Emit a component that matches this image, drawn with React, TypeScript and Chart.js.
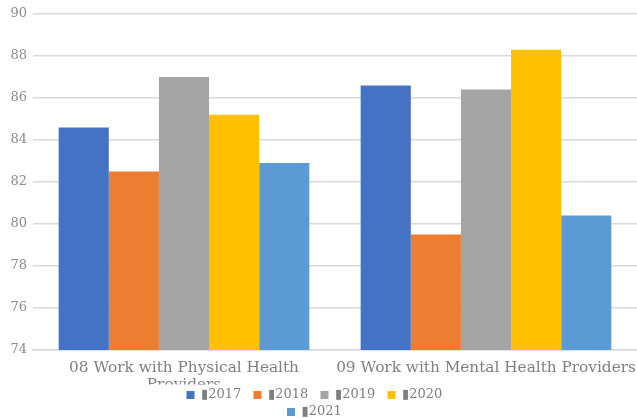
import React, { useEffect, useRef } from "react";
import { Chart, registerables } from "chart.js";

Chart.register(...registerables);

const categories: (string | string[])[] = [
  ["08 Work with Physical Health", "Providers"],
  "09 Work with Mental Health Providers",
];
const seriesNames = ["▮2017  ", "▮2018  ", "▮2019  ", "▮2020  ", "▮2021  "];
const values2017 = [84.6, 86.6];
const values2018 = [82.5, 79.5];
const values2019 = [87.0, 86.4];
const values2020 = [85.2, 88.3];
const values2021 = [82.9, 80.4];
const yTickMin = 74;
const yTickMax = 90;
const yTickStep = 2;

const colors = ["#4472C4", "#ED7D31", "#A5A5A5", "#FFC000", "#5B9BD5"];

const FONT = "'DejaVu Serif', serif";
const LEGEND_HALF_WIDTH = 150;

export default function App() {
  const ref = useRef<HTMLCanvasElement | null>(null);

  useEffect(() => {
    if (!ref.current) return;
    const seriesValues = [values2017, values2018, values2019, values2020, values2021];
    const chart = new Chart(ref.current, {
      type: "bar",
      data: {
        labels: categories,
        datasets: seriesNames.map((name, i) => ({
          label: name,
          data: seriesValues[i],
          backgroundColor: colors[i],
          borderWidth: 0,
          categoryPercentage: 0.83,
          barPercentage: 1,
        })),
      },
      options: {
        animation: false,
        responsive: false,
        maintainAspectRatio: false,
        layout: { padding: { top: 14, left: 0, right: 0, bottom: -10.5 } },
        plugins: {
          tooltip: { enabled: false },
          legend: {
            position: "bottom",
            labels: {
              boxWidth: 8,
              boxHeight: 8,
              padding: 4,
              color: "#7f7f7f",
              font: { family: FONT, size: 13 },
            },
          },
        },
        scales: {
          x: {
            afterFit: (s: any) => {
              s.height = 34.5;
              s.paddingLeft = 0;
              s.paddingRight = 0;
            },
            grid: { display: false, drawTicks: false },
            border: { display: true, color: "#d9d9d9", width: 1.5 },
            ticks: {
              padding: 9.5,
              color: "#7f7f7f",
              maxRotation: 0,
              autoSkip: false,
              font: { family: FONT, size: 15.3, lineHeight: 17 / 15.3 },
            },
          },
          y: {
            min: yTickMin,
            max: yTickMax,
            afterFit: (s: any) => {
              s.width = 33;
            },
            grid: { color: "#d9d9d9", lineWidth: 1.5, drawTicks: false },
            border: { display: false },
            ticks: {
              stepSize: yTickStep,
              padding: 6,
              color: "#8c8c8c",
              font: { family: FONT, size: 13 },
            },
          },
        },
      },
    });
    const lg: any = (chart as any).legend;
    if (lg) {
      const origFit = lg._fitRows.bind(lg);
      lg._fitRows = (...args: any[]) => {
        const mw = lg.maxWidth;
        lg.maxWidth = LEGEND_HALF_WIDTH * 2;
        const r = origFit(...args);
        lg.maxWidth = mw;
        return r;
      };
      const origDraw = lg._draw.bind(lg);
      lg._draw = (...args: any[]) => {
        const l = lg.left;
        const r = lg.right;
        const mid = (l + r) / 2;
        lg.left = mid - LEGEND_HALF_WIDTH;
        lg.right = mid + LEGEND_HALF_WIDTH;
        const res = origDraw(...args);
        lg.left = l;
        lg.right = r;
        return res;
      };
      chart.update();
    }
    return () => chart.destroy();
  }, []);

  return (
    <div style={{ position: "fixed", left: 0, top: 0, width: 637, height: 418, background: "#fff" }}>
      <canvas ref={ref} width={637} height={418} style={{ width: 637, height: 418 }} />
    </div>
  );
}
